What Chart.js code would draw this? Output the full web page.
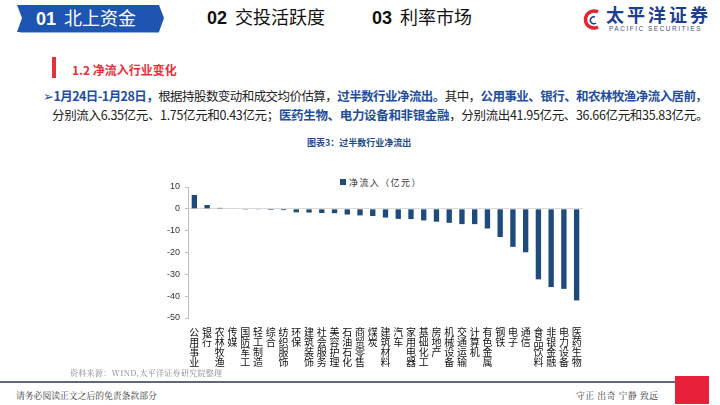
<!DOCTYPE html>
<html>
<head>
<meta charset="utf-8">
<script src="https://cdn.jsdelivr.net/npm/chart.js@4.4.1/dist/chart.umd.min.js"></script>
<style>
  html, body { margin: 0; padding: 0; background: #fff; }
  body { width: 720px; height: 405px; position: relative; overflow: hidden; font-family: "Noto Sans CJK SC", "Noto Sans", sans-serif; }
  .abs { position: absolute; white-space: nowrap; }
  .num { font-family: "Liberation Sans Narrow", "Liberation Sans", sans-serif; font-weight: bold; }
  .blue { color: #1f4f9c; font-weight: bold; }
  .para { font-size: 12.5px; color: #222; line-height: 1; }
  .serif { font-family: "Noto Serif CJK SC", "Noto Sans CJK SC", serif; }
</style>
</head>
<body>
<svg class="abs" style="left:0;top:0" width="720" height="405">
  <polygon points="17,5 159,5 164,18 159,32 17,32 22,18" fill="#1f55b2"/>
  <line x1="20" y1="32.5" x2="159" y2="32.5" stroke="#8fb0e6" stroke-width="1"/>
  <path d="M598,12 A8.5,8.5 0 1 0 598,27" fill="none" stroke="#e3232e" stroke-width="3.5"/>
  <path d="M595,17 A3.5,3.5 0 1 0 596,23" fill="none" stroke="#1d3f8f" stroke-width="1.6"/>
  <rect x="52" y="57" width="4" height="21" fill="#e8303a"/>
  <line x1="0" y1="382" x2="675" y2="382" stroke="#5a6880" stroke-width="2"/>
  <rect x="675" y="376" width="34" height="28" fill="#e8213a"/>
</svg>

<div class="abs" style="left:36px;top:5px;color:#fff;font-size:18px;line-height:24px"><span class="num">01</span>&nbsp;&nbsp;北上资金</div>
<div class="abs" style="left:207px;top:4px;color:#111;font-size:18px;line-height:24px"><span class="num">02</span>&nbsp;&nbsp;交投活跃度</div>
<div class="abs" style="left:372px;top:4px;color:#111;font-size:18px;line-height:24px"><span class="num">03</span>&nbsp;&nbsp;利率市场</div>
<div class="abs" style="left:606px;top:4px;color:#1d3f8f;font-size:18px;font-weight:bold;line-height:20px;letter-spacing:3px">太平洋证券</div>
<div class="abs" style="left:609px;top:25px;color:#3d4f78;font-size:6.5px;line-height:8px;letter-spacing:1.5px;font-family:'Liberation Sans',sans-serif">PACIFIC SECURITIES</div>

<div class="abs" style="left:72px;top:62px;color:#e8303a;font-size:12px;font-weight:bold;line-height:16px">1.2 净流入行业变化</div>

<div class="abs para" id="line1" style="left:43px;top:90px"><span style="color:#1f4f9c">➢</span><span class="blue">1月24日-1月28日，</span>根据持股数变动和成交均价估算，<span class="blue">过半数行业净流出。</span>其中，<span class="blue">公用事业、银行、和农林牧渔净流入居前</span>，</div>
<div class="abs para" id="line2" style="left:52px;top:109px">分别流入6.35亿元、1.75亿元和0.43亿元；<span class="blue">医药生物、电力设备和非银金融</span>，分别流出41.95亿元、36.66亿元和35.83亿元。</div>

<div class="abs" style="left:307px;top:137px;color:#1f4a8a;font-size:9px;font-weight:bold;line-height:12px">图表3：过半数行业净流出</div>

<div class="abs" id="legend" style="left:340px;top:177px;font-size:9px;line-height:12px;color:#333;letter-spacing:1.4px"></div>

<div class="abs" style="left:150px;top:170px;width:440px;height:205px"><canvas id="chart"></canvas></div>

<div class="abs serif" style="left:70px;top:368px;color:#888;font-size:8px;line-height:10px;letter-spacing:0.3px">资料来源：WIND,太平洋证券研究院整理</div>
<div class="abs serif" style="left:16px;top:390px;color:#333;font-size:8.8px;line-height:12px">请务必阅读正文之后的免责条款部分</div>
<div class="abs serif" style="left:576px;top:390px;color:#333;font-size:8.8px;line-height:12px;letter-spacing:0.5px">守正 出奇 宁静 致远</div>

<script>
var industries = ['公用事业', '银行', '农林牧渔', '传媒', '国防军工', '轻工制造', '综合', '纺织服饰',
    '环保', '建筑装饰', '社会服务', '美容护理', '石油石化', '商贸零售', '煤炭', '建筑材料', '汽车',
    '家用电器', '基础化工', '房地产', '机械设备', '交通运输', '计算机', '有色金属', '钢铁', '电子',
    '通信', '食品饮料', '非银金融', '电力设备', '医药生物'];
var netInflow = [6.35, 1.75, 0.43, 0.25, -0.1, -0.15, -0.5, -0.6,
    -1.6, -1.7, -1.9, -2.0, -2.6, -3.0, -3.3, -4.0, -4.6,
    -4.7, -5.3, -5.9, -6.4, -7.0, -7.0, -9.0, -12.9, -17.4,
    -19.9, -32.3, -35.83, -36.66, -41.95];
var yTicks = [10, 0, -10, -20, -30, -40, -50];
var seriesName = '净流入（亿元）';
var barColor = '#1f4a7c';

// stretch each text line to the reference width
function fitLine(id, width) {
    var el = document.getElementById(id);
    var n = el.textContent.length;
    var gap = (width - el.scrollWidth) / n;
    el.style.letterSpacing = gap + 'px';
}
fitLine('line1', 664);
fitLine('line2', 656);

// category labels written top-down, one character per row, at the scale's tick positions
var verticalLabels = {
    id: 'verticalLabels',
    afterDraw: function (chart) {
        var xs = chart.scales.x;
        var c = chart.ctx;
        c.save();
        c.fillStyle = '#111';
        c.font = '10px "Noto Sans CJK SC"';
        c.textAlign = 'center';
        c.textBaseline = 'top';
        chart.data.labels.forEach(function (label, i) {
            var x = xs.getPixelForTick(i);
            label.split('').forEach(function (ch, k) {
                c.fillText(ch, x, xs.top + 9 + k * 10);
            });
        });
        c.restore();
    }
};

var ctx = document.getElementById('chart').getContext('2d');
var myChart = new Chart(ctx, {
    type: 'bar',
    data: {
        labels: industries,
        datasets: [{
            label: seriesName,
            data: netInflow,
            backgroundColor: barColor,
            categoryPercentage: 1,
            barPercentage: 0.42
        }]
    },
    plugins: [verticalLabels],
    options: {
        responsive: true,
        maintainAspectRatio: false,
        animation: false,
        layout: { padding: { right: 7, top: 17 } },
        plugins: {
            tooltip: { enabled: false },
            legend: { display: false }
        },
        scales: {
            x: {
                grid: { display: false },
                border: { display: false },
                ticks: { display: false },
                afterFit: function (scale) { scale.height = 57; }
            },
            y: {
                min: -50,
                max: 10,
                afterBuildTicks: function (scale) {
                    scale.ticks = yTicks.map(function (v) { return { value: v }; });
                },
                grid: {
                    color: function (c) { return c.tick && c.tick.value === 0 ? '#d9d9d9' : 'rgba(0,0,0,0)'; },
                    tickColor: '#bfbfbf',
                    tickLength: 3
                },
                border: { color: '#bfbfbf' },
                ticks: {
                    padding: 5,
                    color: '#333',
                    font: { size: 9, family: 'Liberation Sans' }
                },
                afterFit: function (scale) { scale.width = 38; }
            }
        }
    }
});

// legend drawn as html from the dataset
var ds = myChart.data.datasets[0];
document.getElementById('legend').innerHTML =
    '<span style="display:inline-block;width:6px;height:6px;background:' + ds.backgroundColor +
    ';margin-right:3px;vertical-align:1px"></span>' + ds.label;
</script>
</body>
</html>
